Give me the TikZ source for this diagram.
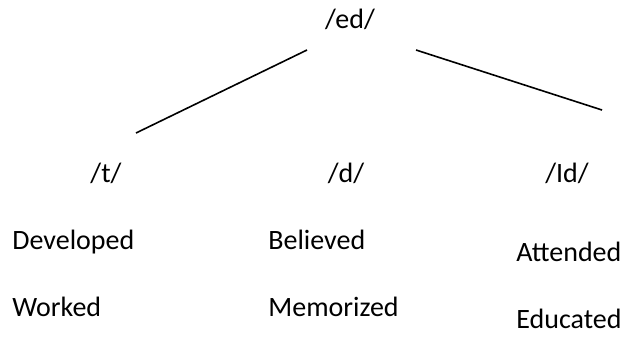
\documentclass[tikz,border=0pt]{standalone}
\usepackage{fontspec}
\setmainfont{Carlito}
\usepackage{tikz}
\usetikzlibrary{positioning}
\tikzstyle{phoneme} = [inner sep=0pt, anchor=base, font=\fontsize{14}{17}\selectfont]
\tikzstyle{word} = [inner sep=0pt, anchor=base west, font=\fontsize{14}{17}\selectfont]
\tikzstyle{line} = [draw, line width=0.8pt]

\begin{document}
\begin{tikzpicture}[x=0.5pt, y=-0.5pt]
        \useasboundingbox (0,0) rectangle (630,338);

        % Place nodes
        \node [phoneme] (ed) at (350,28) {/ed/};
        \node [phoneme] (t) at (106,182) {/t/};
        \node [phoneme] (d) at (346,182) {/d/};
        \node [phoneme] (id) at (567,182) {/Id/};

        \node [word] (developed) at (12,249) {Developed};
        \node [word] (worked) at (12,316) {Worked};
        \node [word] (believed) at (268,249) {Believed};
        \node [word] (memorized) at (268,316) {Memorized};
        \node [word] (attended) at (516,261) {Attended};
        \node [word] (educated) at (516,328) {Educated};

        % Branch ends
        \coordinate (edleft) at (307,50);
        \coordinate (edright) at (416,50);
        \coordinate (tend) at (136,133);
        \coordinate (idend) at (602,110);

        % Draw edges
        \path [line] (edleft) -- (tend);
        \path [line] (edright) -- (idend);
    \end{tikzpicture}
\end{document}
